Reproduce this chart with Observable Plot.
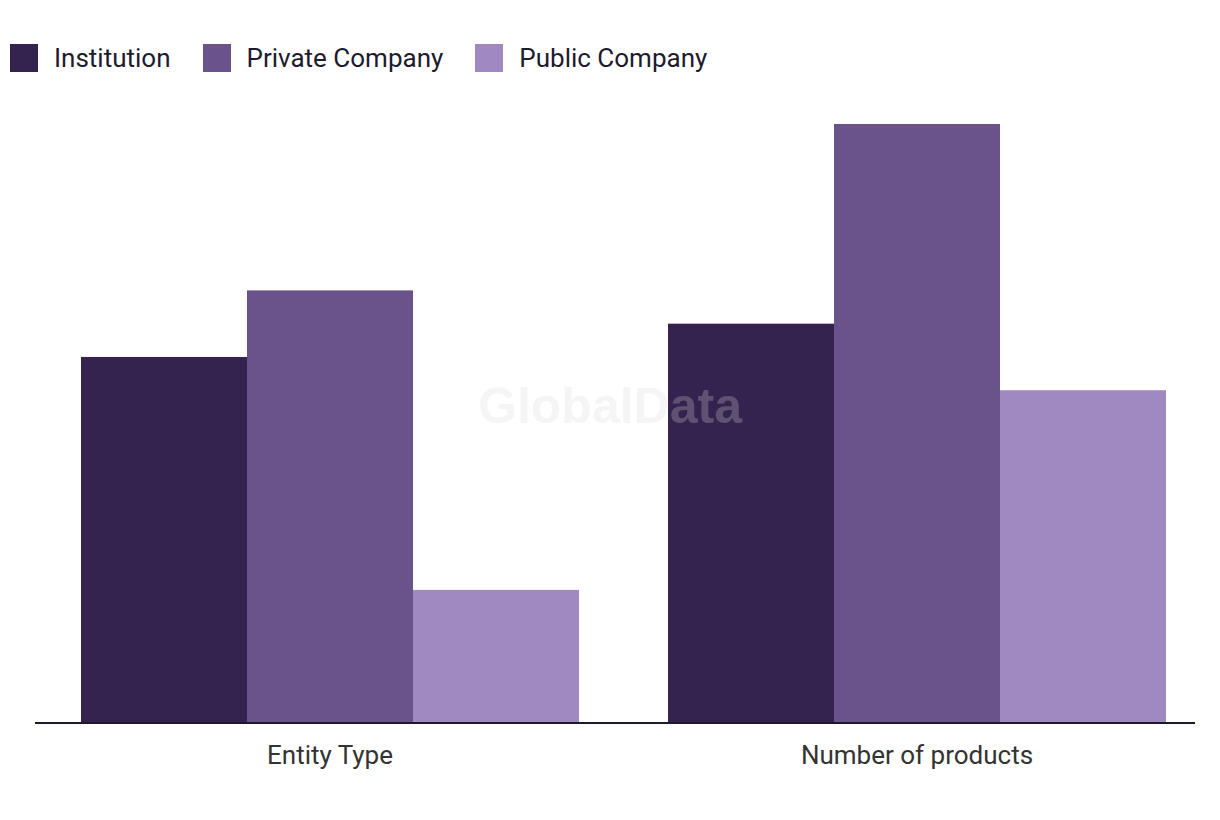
<!DOCTYPE html>
<html>
<head>
<meta charset="utf-8">
<script src="https://cdn.jsdelivr.net/npm/d3@7"></script>
<script src="https://cdn.jsdelivr.net/npm/@observablehq/plot@0.6"></script>
<style>
  html, body { margin: 0; padding: 0; background: #fff; }
  body { width: 1220px; height: 820px; overflow: hidden; font-family: Roboto, "Liberation Sans", sans-serif; }
  #legend { height: 100px; box-sizing: border-box; padding-top: 44px; padding-left: 10px; display: flex; align-items: flex-start; }
  #legend .item { display: flex; align-items: center; margin-right: 32px; }
  #legend .sw { width: 28px; height: 28px; margin-right: 16px; }
  #legend .lab { font-size: 26px; color: #1e1b2e; line-height: 28px; }
</style>
</head>
<body>
<div id="legend"></div>
<div id="chart"></div>
<script>
const groups = ["Entity Type", "Number of products"];
const series = ["Institution", "Private Company", "Public Company"];
const colors = ["#35234f", "#69538a", "#a088c0"];
const entityTypeValues = [11, 13, 4];
const numberOfProductsValues = [12, 18, 10];

const data = [];
series.forEach((s, i) => {
  data.push({group: groups[0], series: s, value: entityTypeValues[i]});
});
series.forEach((s, i) => {
  data.push({group: groups[1], series: s, value: numberOfProductsValues[i]});
});

// legend
const legend = d3.select("#legend");
series.forEach((s, i) => {
  const it = legend.append("div").attr("class", "item");
  it.append("div").attr("class", "sw").style("background", colors[i]);
  it.append("div").attr("class", "lab").text(s);
});

const W = 1220, H = 720;
const chart = Plot.plot({
  width: W,
  height: H,
  marginTop: 24,
  marginBottom: 97,
  marginLeft: 80,
  marginRight: 54,
  style: {fontFamily: "Roboto, 'Liberation Sans', sans-serif", fontSize: "26px", color: "#333"},
  fx: {domain: groups, paddingInner: 0.15, paddingOuter: 0, label: null, axis: "bottom", tickSize: 0, tickPadding: 22},
  x: {domain: series, padding: 0, axis: null},
  y: {domain: [0, 18], axis: null},
  color: {domain: series, range: colors},
  marks: [
    Plot.barY(data, {fx: "group", x: "series", y: "value", fill: "series"})
  ]
});
document.getElementById("chart").appendChild(chart);

const svg = d3.select(chart);
const y0 = chart.scale("y").apply(0);
svg.append("line")
  .attr("x1", 35).attr("x2", W - 25)
  .attr("y1", y0).attr("y2", y0)
  .attr("stroke", "#1a1a2a").attr("stroke-width", 2);

svg.append("text")
  .attr("x", 610).attr("y", 310)
  .attr("text-anchor", "middle").attr("dominant-baseline", "middle")
  .attr("font-family", "'Liberation Sans', Arial, sans-serif")
  .attr("font-weight", "bold").attr("font-size", 50)
  .attr("fill", "#d8d8d8").attr("fill-opacity", 0.26)
  .text("GlobalData");
</script>
</body>
</html>
